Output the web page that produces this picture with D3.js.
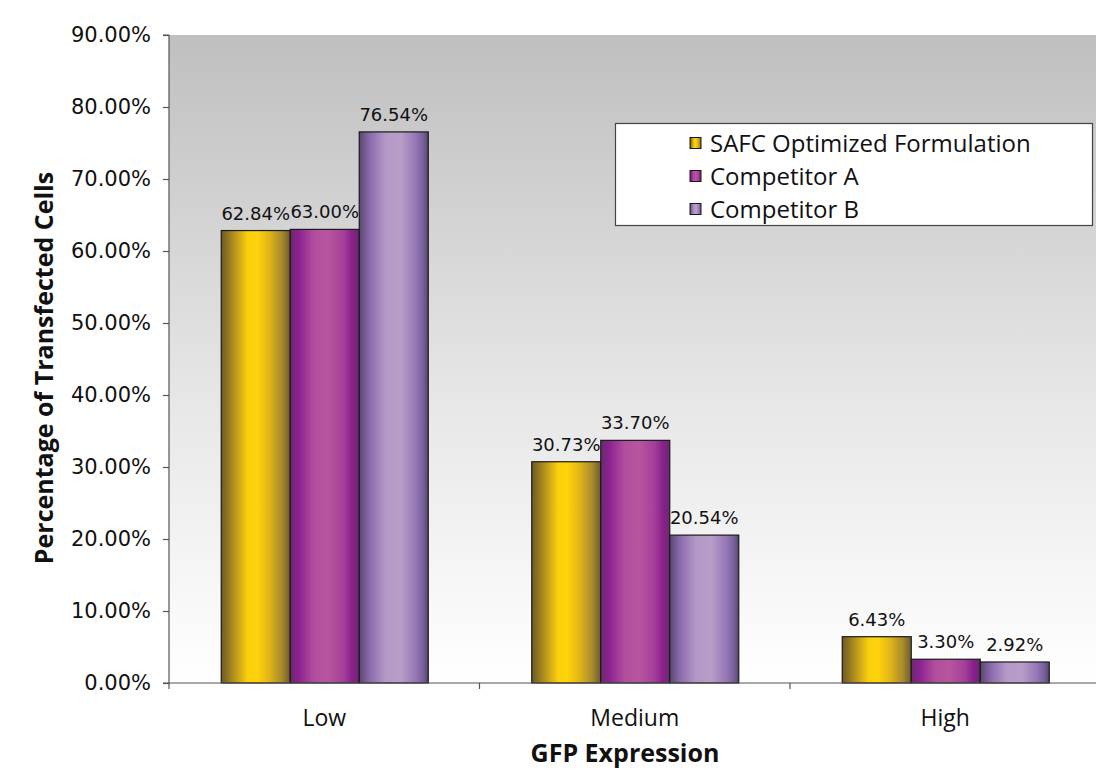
<!DOCTYPE html>
<html>
<head>
<meta charset="utf-8">
<script src="https://cdn.jsdelivr.net/npm/d3@7"></script>
<style>
  html, body { margin: 0; padding: 0; background: #ffffff; }
  svg { display: block; }
</style>
</head>
<body>
<svg id="chart" width="1096" height="770"></svg>
<script>
// Data
const categories = ["Low", "Medium", "High"];
const seriesNames = ["SAFC Optimized Formulation", "Competitor A", "Competitor B"];
const safcValues = [62.84, 30.73, 6.43];
const competitorAValues = [63.00, 33.70, 3.30];
const competitorBValues = [76.54, 20.54, 2.92];
const yTicks = [0, 10, 20, 30, 40, 50, 60, 70, 80, 90];

const seriesValues = [safcValues, competitorAValues, competitorBValues];

// Cylinder-like shading for each series
const seriesStops = [
  [[0, "#6c5a26"], [0.2, "#b8951e"], [0.38, "#fbcf0c"], [0.52, "#ffd30a"], [0.7, "#e0b418"], [0.88, "#a68a2e"], [1, "#6e5c2a"]],
  [[0, "#6a2a6e"], [0.12, "#8c2190"], [0.35, "#b14f9e"], [0.55, "#b8559f"], [0.78, "#a33f98"], [0.9, "#8a1f8c"], [1, "#6a2a6e"]],
  [[0, "#58476e"], [0.15, "#8a6aac"], [0.38, "#b598c8"], [0.6, "#b79ec8"], [0.82, "#9676b6"], [0.93, "#76609a"], [1, "#574669"]]
];

const svg = d3.select("#chart");
const margin = { left: 169, top: 35, bottom: 683 };
const bandWidth = 310.5;
const plotRight = margin.left + bandWidth * categories.length;

const defs = svg.append("defs");

const bg = defs.append("linearGradient").attr("id", "bgGrad")
  .attr("x1", 0).attr("y1", 0).attr("x2", 0).attr("y2", 1);
bg.append("stop").attr("offset", 0).attr("stop-color", "#bfbfbf");
bg.append("stop").attr("offset", 0.55).attr("stop-color", "#e6e6e6");
bg.append("stop").attr("offset", 1).attr("stop-color", "#ffffff");

seriesStops.forEach((stops, i) => {
  const g = defs.append("linearGradient").attr("id", "barGrad" + i)
    .attr("x1", 0).attr("y1", 0).attr("x2", 1).attr("y2", 0);
  stops.forEach(s => g.append("stop").attr("offset", s[0]).attr("stop-color", s[1]));
});

// Scales
const x0 = d3.scaleBand().domain(categories).range([margin.left, plotRight]).paddingInner(0).paddingOuter(0);
const x1 = d3.scaleBand().domain(d3.range(seriesNames.length)).range([0, x0.bandwidth()]).paddingInner(0).paddingOuter(0.75);
const y = d3.scaleLinear().domain([0, 90]).range([margin.bottom, margin.top]);

// Plot background
svg.append("rect")
  .attr("x", margin.left).attr("y", margin.top)
  .attr("width", plotRight - margin.left).attr("height", margin.bottom - margin.top)
  .attr("fill", "url(#bgGrad)");

// Bars
const groups = svg.append("g").selectAll("g")
  .data(categories)
  .join("g")
  .attr("transform", d => `translate(${x0(d)},0)`);

groups.selectAll("rect")
  .data((d, ci) => seriesValues.map((vals, si) => ({ si, v: vals[ci] })))
  .join("rect")
  .attr("x", d => x1(d.si) + 0.5)
  .attr("y", d => y(d.v))
  .attr("width", x1.bandwidth())
  .attr("height", d => y(0) - y(d.v))
  .attr("fill", d => `url(#barGrad${d.si})`)
  .attr("stroke", "#1a1a1a")
  .attr("stroke-width", 1.2);

groups.selectAll("text")
  .data((d, ci) => seriesValues.map((vals, si) => ({ si, v: vals[ci] })))
  .join("text")
  .attr("x", d => x1(d.si) + x1.bandwidth() / 2 + 0.5)
  .attr("y", d => y(d.v) - 11)
  .attr("text-anchor", "middle")
  .attr("font-family", "DejaVu Sans, sans-serif")
  .attr("font-size", 18)
  .attr("fill", "#111")
  .text(d => d.v.toFixed(2) + "%");

// Y axis
const yAxis = d3.axisLeft(y).tickValues(yTicks).tickSize(6).tickPadding(12)
  .tickFormat(d => d.toFixed(2) + "%");
const yg = svg.append("g").attr("transform", `translate(${margin.left},0)`).call(yAxis);
yg.select(".domain").attr("stroke", "#555").attr("stroke-width", 1.2).attr("d", `M-6,${margin.top}H0V${margin.bottom}H-6`);
yg.selectAll(".tick line").attr("stroke", "#555").attr("stroke-width", 1.2);
yg.selectAll(".tick text")
  .attr("font-family", "DejaVu Sans, sans-serif")
  .attr("font-size", 21)
  .attr("fill", "#111");

// X axis
const xAxis = d3.axisBottom(x0).tickSize(0).tickPadding(27);
const xg = svg.append("g").attr("transform", `translate(0,${margin.bottom})`).call(xAxis);
xg.select(".domain").attr("stroke", "#555").attr("stroke-width", 1.2).attr("d", `M${margin.left},0H${plotRight}`);
xg.selectAll(".tick text")
  .attr("font-family", "Open Sans, sans-serif")
  .attr("font-size", 23)
  .attr("fill", "#111");
// Category separators
xg.selectAll(".sep")
  .data(categories.concat(["end"]))
  .join("line")
  .attr("class", "sep")
  .attr("x1", (d, i) => margin.left + i * bandWidth)
  .attr("x2", (d, i) => margin.left + i * bandWidth)
  .attr("y1", 0).attr("y2", 6)
  .attr("stroke", "#555").attr("stroke-width", 1.2);

// Axis titles
svg.append("text")
  .attr("x", 625).attr("y", 762)
  .attr("text-anchor", "middle")
  .attr("font-family", "Open Sans, sans-serif")
  .attr("font-weight", "bold")
  .attr("font-size", 25)
  .attr("fill", "#111")
  .text("GFP Expression");

svg.append("text")
  .attr("transform", "translate(53,368) rotate(-90)")
  .attr("text-anchor", "middle")
  .attr("font-family", "Open Sans, sans-serif")
  .attr("font-weight", "bold")
  .attr("font-size", 25)
  .attr("fill", "#111")
  .text("Percentage of Transfected Cells");

// Legend
const legend = svg.append("g");
legend.append("rect")
  .attr("x", 615.5).attr("y", 123.5).attr("width", 477).attr("height", 102)
  .attr("fill", "#ffffff").attr("stroke", "#444").attr("stroke-width", 1.2);
const rows = legend.selectAll("g.row")
  .data(seriesNames)
  .join("g")
  .attr("class", "row")
  .attr("transform", (d, i) => `translate(690,${143 + i * 33})`);
rows.append("rect")
  .attr("x", 0).attr("y", -5.5).attr("width", 11).attr("height", 11)
  .attr("fill", (d, i) => `url(#barGrad${i})`)
  .attr("stroke", "#1a1a1a").attr("stroke-width", 1);
rows.append("text")
  .attr("x", 20).attr("y", 9)
  .attr("font-family", "Open Sans, sans-serif")
  .attr("font-size", 24)
  .attr("fill", "#111")
  .text(d => d);
</script>
</body>
</html>
